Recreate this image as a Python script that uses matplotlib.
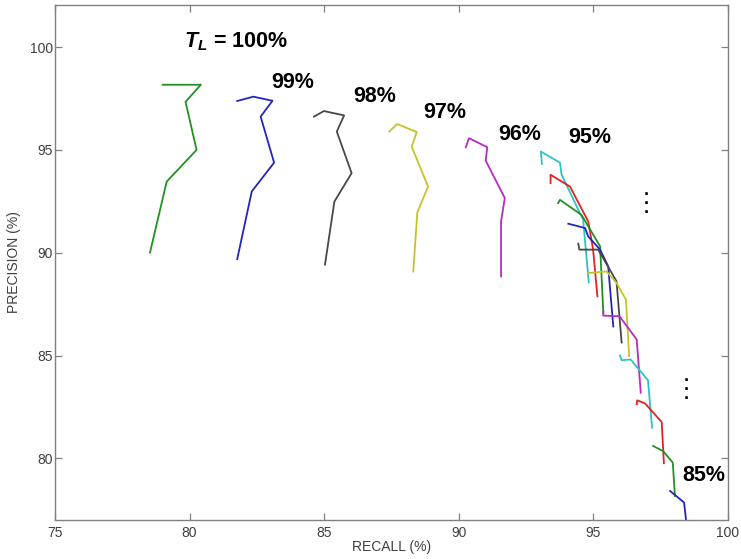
import matplotlib
matplotlib.use("Agg")
import matplotlib.pyplot as plt

# precision/recall curves, one per threshold T_L
thresholds = [100, 99, 98, 97, 96, 95, 94, 93, 92, 91, 90, 89, 88, 87, 86, 85]

recall_100 = [79.00, 80.42, 79.85, 80.26, 79.15, 78.53]
prec_100 = [98.17, 98.17, 97.34, 95.00, 93.46, 90.01]
recall_99 = [81.77, 82.37, 83.08, 82.64, 83.14, 82.31, 81.77]
prec_99 = [97.38, 97.59, 97.39, 96.62, 94.38, 92.98, 89.69]
recall_98 = [84.62, 84.99, 85.74, 85.47, 86.02, 85.38, 85.03]
prec_98 = [96.62, 96.89, 96.68, 95.89, 93.87, 92.49, 89.42]
recall_97 = [87.42, 87.71, 88.44, 88.25, 88.86, 88.46, 88.31]
prec_97 = [95.89, 96.26, 95.87, 95.16, 93.22, 91.96, 89.09]
recall_96 = [90.26, 90.38, 91.06, 91.00, 91.71, 91.57, 91.57]
prec_96 = [95.13, 95.57, 95.13, 94.48, 92.66, 91.52, 88.85]
recall_95 = [93.09, 93.05, 93.76, 93.82, 94.62, 94.83]
prec_95 = [94.32, 94.92, 94.38, 93.79, 91.60, 88.56]
recall_94 = [93.41, 93.41, 94.13, 94.81, 94.99, 95.15]
prec_94 = [93.38, 93.79, 93.22, 91.52, 90.15, 87.88]
recall_93 = [93.69, 93.76, 94.56, 95.25, 95.37]
prec_93 = [92.41, 92.57, 91.84, 90.31, 87.09]
recall_92 = [94.07, 94.69, 94.81, 95.25, 95.55, 95.74]
prec_92 = [91.41, 91.20, 90.79, 90.15, 89.34, 86.41]
recall_91 = [94.44, 94.48, 95.18, 95.86, 96.05]
prec_91 = [90.44, 90.15, 90.15, 88.61, 85.63]
recall_90 = [94.81, 95.49, 95.86, 96.21, 96.33]
prec_90 = [89.01, 89.09, 88.53, 87.72, 84.97]
recall_89 = [95.37, 95.37, 95.97, 96.61, 96.76]
prec_89 = [87.15, 86.94, 86.91, 85.78, 83.19]
recall_88 = [95.99, 96.05, 96.38, 97.03, 97.18]
prec_88 = [85.00, 84.77, 84.81, 83.80, 81.49]
recall_87 = [96.61, 96.63, 96.92, 97.54, 97.62]
prec_87 = [82.62, 82.82, 82.67, 81.76, 79.76]
recall_86 = [97.22, 97.59, 97.95, 98.03]
prec_86 = [80.60, 80.35, 79.79, 78.17]
recall_85 = [97.85, 98.37, 98.44, 98.46]
prec_85 = [78.41, 77.85, 77.04, 76.50]

recalls = [recall_100, recall_99, recall_98, recall_97, recall_96, recall_95,
           recall_94, recall_93, recall_92, recall_91, recall_90, recall_89,
           recall_88, recall_87, recall_86, recall_85]
precisions = [prec_100, prec_99, prec_98, prec_97, prec_96, prec_95,
              prec_94, prec_93, prec_92, prec_91, prec_90, prec_89,
              prec_88, prec_87, prec_86, prec_85]

# colour cycle used in the figure: g, b, k, y, m, c, r
cycle = ['#229022', '#2424c0', '#484848', '#c4c42a', '#b62cc2', '#2cc2c6', '#e02424']

plt.rcParams['font.family'] = ['Liberation Sans', 'DejaVu Sans']
plt.rcParams['mathtext.fontset'] = 'custom'
plt.rcParams['mathtext.bfit'] = 'Liberation Sans:bold:italic'
plt.rcParams['mathtext.bf'] = 'Liberation Sans:bold'

fig = plt.figure(figsize=(7.41, 5.59), dpi=100)
ax = fig.add_axes([0.0742, 0.0698, 0.9082, 0.9213])

for i, (r, p) in enumerate(zip(recalls, precisions)):
    ax.plot(r, p, color=cycle[i % len(cycle)], lw=1.3)

ax.set_xlim(75, 100)
ax.set_ylim(77, 102.05)
ax.set_xticks([75, 80, 85, 90, 95, 100])
ax.set_yticks([80, 85, 90, 95, 100])

for s in ax.spines.values():
    s.set_color('#808080')
    s.set_linewidth(1.0)
ax.tick_params(direction='in', top=True, right=True, length=5, width=0.9,
               color='#808080', labelcolor='#404040', labelsize=10)
ax.tick_params(axis='y', pad=1.5)
ax.tick_params(axis='x', pad=4)
ax.set_xlabel('RECALL (%)', fontsize=10, color='#404040', labelpad=0)
ax.set_ylabel('PRECISION (%)', fontsize=10, color='#404040', labelpad=6)

# threshold labels
kw = dict(fontsize=15.5, fontweight='bold', ha='center', va='center', color='black')
ax.text(81.72, 100.24, r'$\mathbfit{T}_{\mathbfit{L}}$ = 100%', **kw)
ax.text(83.84, 98.28, '99%', **kw)
ax.text(86.89, 97.60, '98%', **kw)
ax.text(89.49, 96.82, '97%', **kw)
ax.text(92.27, 95.75, '96%', **kw)
ax.text(94.87, 95.58, '95%', **kw)
ax.text(99.11, 79.17, '85%', **kw)

# vertical ellipses between the plotted thresholds
dots = '.\n.\n.'
ax.text(96.95, 92.60, dots, fontsize=13, fontweight='bold', ha='center',
        va='center', linespacing=0.37)
ax.text(98.47, 83.53, dots, fontsize=13, fontweight='bold', ha='center',
        va='center', linespacing=0.37)

fig.savefig('out.png', dpi=100)
